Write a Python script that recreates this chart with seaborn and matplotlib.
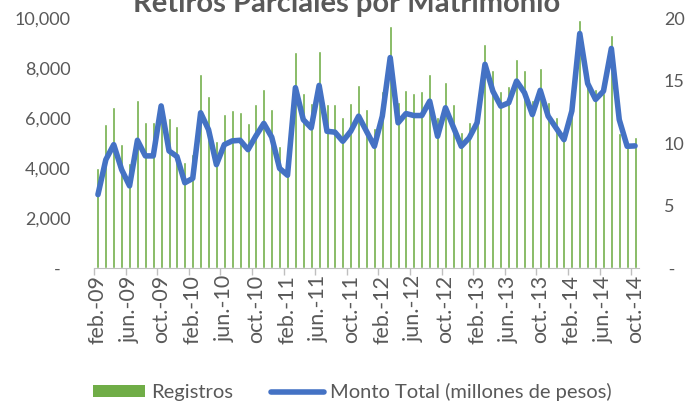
import numpy as np
import pandas as pd
import seaborn as sns
from matplotlib import pyplot as plt
from matplotlib.lines import Line2D
from matplotlib.patches import Patch
from matplotlib.ticker import FixedLocator, FuncFormatter

# monthly categories feb-09 .. oct-14
month_abbr = ["ene.", "feb.", "mar.", "abr.", "may.", "jun.",
              "jul.", "ago.", "sep.", "oct.", "nov.", "dic."]
months = pd.date_range("2009-02-01", "2014-10-01", freq="MS")
month_labels = [f"{month_abbr[m.month - 1]}-{m.year % 100:02d}" for m in months]

registros = [
    4000, 5760, 6460, 4970, 4200, 6730, 5840, 5840, 6450, 6000, 5690,
    4260, 4570, 7760, 6890, 5090, 6160, 6330, 6260, 5800, 6570, 7180, 6370,
    4880, 3800, 8670, 7030, 6600, 8700, 6560, 6560, 6050, 6600, 7330, 6360,
    5600, 7090, 9690, 6660, 7130, 7030, 7090, 7760, 6060, 7460, 6560, 5470,
    5840, 6560, 8970, 7930, 7090, 7290, 8360, 7930, 6730, 8000, 6660, 6040,
    5130, 6200, 9930, 7460, 7160, 7000, 9330, 5430, 4860, 5270,
]
monto_total = [
    5.9, 8.7, 9.9, 7.9, 6.6, 10.25, 9.0, 9.0, 13.0, 9.4, 8.95,
    6.85, 7.2, 12.45, 11.1, 8.3, 9.9, 10.2, 10.25, 9.5, 10.6, 11.6, 10.5,
    8.0, 7.45, 14.46, 11.9, 11.24, 14.64, 10.97, 10.9, 10.17, 10.97, 12.18, 10.97,
    9.77, 12.18, 16.87, 11.65, 12.39, 12.23, 12.23, 13.38, 10.57, 12.85, 11.3, 9.77,
    10.44, 11.65, 16.33, 14.18, 12.98, 13.25, 14.99, 14.06, 12.31, 14.25, 12.18, 11.24,
    10.3, 12.6, 18.8, 14.8, 13.52, 14.18, 17.6, 11.9, 9.77, 9.8,
]

left_ticks = [0, 2000, 4000, 6000, 8000, 10000]
right_ticks = [0, 5, 10, 15, 20]

GREEN = "#70AD47"
BLUE = "#4472C4"
TEXT = "#595959"

sns.set_style("white")
plt.rcParams["font.family"] = ["Lato", "DejaVu Sans"]

df = pd.DataFrame({"mes": month_labels, "pos": np.arange(len(month_labels)),
                   "registros": registros, "monto": monto_total})

fig = plt.figure(figsize=(6.86, 4.01), dpi=100)
ax = fig.add_axes([94 / 686, 1 - 268.3 / 401, 545 / 686, 249.8 / 401])

sns.barplot(data=df, x="mes", y="registros", color=GREEN, saturation=1,
            width=0.38, ax=ax)
ax.set_xlim(-0.5, len(df) - 0.5)
ax.set_ylim(0, 10000)
ax.set_xlabel("")
ax.set_ylabel("")

ax2 = ax.twinx()
sns.lineplot(data=df, x="pos", y="monto", color=BLUE, linewidth=4,
             solid_capstyle="round", solid_joinstyle="round", ax=ax2)
ax2.set_ylim(0, 20)
ax2.set_xlim(-0.5, len(df) - 0.5)
ax2.set_xlabel("")
ax2.set_ylabel("")

# x axis: labels every 4 months, tick marks between categories
label_pos = list(range(0, len(df), 4))
ax.xaxis.set_major_locator(FixedLocator(label_pos))
ax.set_xticklabels([month_labels[i] for i in label_pos], rotation=90,
                   fontsize=15.5, color=TEXT)
ax.xaxis.set_minor_locator(FixedLocator([p - 0.5 for p in label_pos]))
ax.tick_params(axis="x", which="major", length=0, pad=5)
ax.tick_params(axis="x", which="minor", length=5, width=1, color="#BFBFBF",
               bottom=True)

ax.yaxis.set_major_locator(FixedLocator(left_ticks))
ax.yaxis.set_major_formatter(FuncFormatter(
    lambda v, p: "-  " if v == 0 else f"{int(v):,}"))
ax.tick_params(axis="y", length=0, pad=17, labelsize=13, labelcolor=TEXT)

ax2.yaxis.set_major_locator(FixedLocator(right_ticks))
ax2.yaxis.set_major_formatter(FuncFormatter(
    lambda v, p: " -" if v == 0 else f"{int(v)}"))
ax2.tick_params(axis="y", length=0, pad=18, labelsize=13, labelcolor=TEXT)

for a in (ax, ax2):
    for side in ("top", "left", "right"):
        a.spines[side].set_visible(False)
    a.spines["bottom"].set_color("#BFBFBF")
    a.grid(False)
ax2.spines["bottom"].set_visible(False)

fig.text(346.5 / 686, 1 - 12 / 401, "Retiros Parciales por Matrimonio",
         ha="center", va="baseline", fontsize=21, fontweight="bold", color=TEXT)

handles = [Patch(facecolor=GREEN, edgecolor="none"),
           Line2D([0], [0], color=BLUE, linewidth=4, solid_capstyle="round")]
fig.legend(handles, ["Registros", "Monto Total (millones de pesos)"],
           loc="center", bbox_to_anchor=(352 / 686, 1 - 392 / 401), ncol=2,
           frameon=False, fontsize=14.5, labelcolor=TEXT, handlelength=2.6,
           handleheight=0.5, handletextpad=0.3, columnspacing=1.9)

fig.savefig("out.png", dpi=100)
